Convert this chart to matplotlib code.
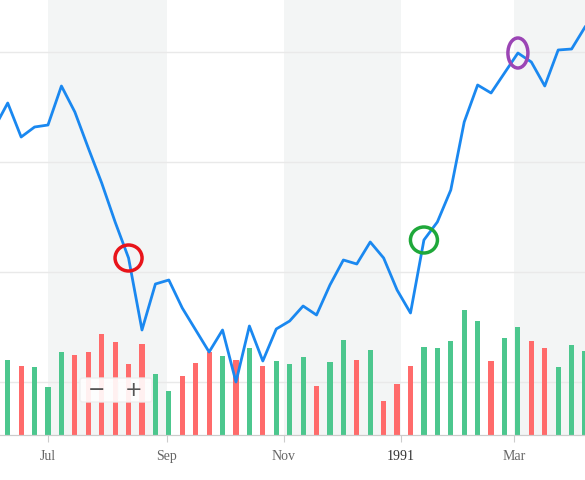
import datetime as dt
import matplotlib
matplotlib.use("Agg")
import matplotlib.pyplot as plt
import matplotlib.dates as mdates
from matplotlib.patches import Ellipse, FancyBboxPatch
from matplotlib.transforms import ScaledTranslation

plt.rcParams['font.family'] = ['Liberation Serif', 'DejaVu Serif']

# weekly closing prices, starting 1990-06-03
price = [88, 94.25, 85.75, 88.25, 88.75, 98.5, 92, 83, 74.25, 64.5, 55.5, 37.5,
         49, 50, 43, 37.5, 32, 37.5, 24.5, 38.5, 29.75, 37.75, 39.75, 43.5, 41.25,
         48.75, 55, 54, 59.5, 55.5, 47.5, 41.75, 60, 64.5, 72.5, 89.5, 98.75,
         96.75, 101.75, 106.75, 104.5, 98.5, 107.5, 107.75, 113.25]
# weekly volume, starting 1990-06-10
volume = [75, 69, 68, 48, 83, 80, 83, 101, 93, 71, 91, 61, 44, 59, 72, 83, 79, 75,
          87, 69, 74, 71, 78, 49, 73, 95, 75, 85, 34, 51, 69, 88, 87, 94, 125, 114,
          74, 97, 108, 94, 87, 68, 90, 84]
vol_dir = "GRGGGRRRRRRGGRRRGRGRGGGRGGRGRRRGGGGGRGGRRGGG"
markers = [(10, '#e8141a'), (32, '#1fa83a'), (39, '#9b45b5')]  # index into price

start = dt.date(1990, 6, 3)
pdates = [start + dt.timedelta(weeks=i) for i in range(len(price))]
vdates = [start + dt.timedelta(weeks=i + 1) for i in range(len(volume))]

fig = plt.figure(figsize=(5.85, 4.8), dpi=100)
ax = fig.add_axes([0, 45 / 480, 1, 435 / 480])
axv = ax.twinx()
ax.set_zorder(axv.get_zorder() + 1)
ax.patch.set_visible(False)

x0 = mdates.date2num(dt.date(1990, 7, 1)) - 48 / 1.918
ax.set_xlim(x0, x0 + 585 / 1.918)
ax.set_ylim(11.25, 120)
axv.set_ylim(0, 435)

for a, b in [((1990, 7, 1), (1990, 9, 1)), ((1990, 11, 1), (1991, 1, 1)), ((1991, 3, 1), (1991, 5, 1))]:
    axv.axvspan(dt.date(*a), dt.date(*b), color='#f3f5f5', zorder=0, lw=0)
for g in [107, 79.5, 52, 24.5]:
    axv.axhline((g - 11.25) * 4, color='#e9e9e9', lw=1, zorder=1)

cols = ['#4cc78e' if c == 'G' else '#ff6b6b' for c in vol_dir]
axv.bar(vdates, volume, width=2.7, color=cols, zorder=2)

ax.plot(pdates, price, color='#1a88f0', lw=2, zorder=3)
for i, c in markers:
    w, h = (0.27, 0.26) if i != 39 else (0.2, 0.3)
    tr = fig.dpi_scale_trans + ScaledTranslation(mdates.date2num(pdates[i]), price[i], ax.transData)
    ax.add_patch(Ellipse((0, 0), w, h, transform=tr, fill=False, ec=c, lw=2.5, zorder=4))

ax.xaxis.set_major_locator(mdates.MonthLocator(bymonth=[1, 3, 7, 9, 11]))
ax.set_xticks([mdates.date2num(dt.date(*d)) for d in [(1990, 7, 1), (1990, 9, 1), (1990, 11, 1), (1991, 1, 1), (1991, 3, 1)]])
ax.set_xticklabels(['Jul', 'Sep', 'Nov', '1991', 'Mar'])
ax.tick_params(axis='x', length=5, color='#cccccc', labelsize=10, labelcolor='#666666', pad=6)
ax.get_xticklabels()[3].set_color('#333333')
ax.set_yticks([])
axv.set_yticks([])
for a in (ax, axv):
    for s in ['top', 'left', 'right']:
        a.spines[s].set_visible(False)
    a.spines['bottom'].set_color('#cccccc')

# zoom control
fig.patches.append(FancyBboxPatch((80 / 585, 78 / 480), 72 / 585, 24 / 480,
                                  boxstyle='round,pad=0,rounding_size=0.005',
                                  transform=fig.transFigure, fc='white', ec='#eeeeee', alpha=0.9, zorder=5))
fig.text(97 / 585, 90 / 480, '\u2212', ha='center', va='center', fontsize=15, color='#555555', family='DejaVu Sans', zorder=6)
fig.text(134 / 585, 90 / 480, '+', ha='center', va='center', fontsize=15, color='#555555', family='DejaVu Sans', zorder=6)
fig.add_artist(plt.Line2D([118 / 585, 118 / 585], [82 / 480, 98 / 480], color='#dddddd', lw=1, transform=fig.transFigure))

fig.savefig('out.png', dpi=100)
